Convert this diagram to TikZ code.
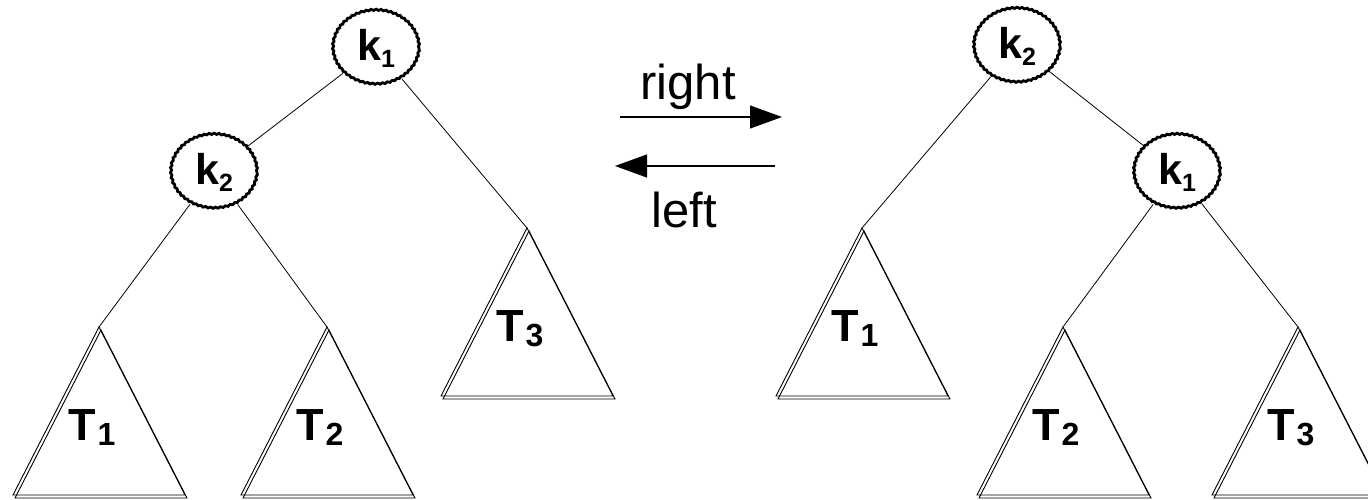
\documentclass[tikz,border=0pt]{standalone}
\usepackage{fontspec}
\setmainfont{Liberation Sans}
\usetikzlibrary{shapes.geometric,decorations.pathmorphing,arrows.meta}

\tikzset{
  keynode/.style={ellipse, draw, line width=2.8pt, minimum width=86pt, minimum height=74pt,
    inner sep=0pt, decorate, decoration={snake, amplitude=0.6pt, segment length=5pt},
    font=\fontsize{43}{43}\selectfont\bfseries},
  edge/.style={line width=0.8pt},
  treeside/.style={line width=0.9pt, line join=miter},
  arrowline/.style={line width=1.1pt, -{Triangle[length=32pt,width=23pt]}},
  lbl/.style={font=\fontsize{49}{49}\selectfont, inner sep=0pt},
  treelabel/.style={font=\fontsize{45}{45}\selectfont\bfseries, inner sep=0pt, anchor=base west}
}

% key label with lowered index
\newcommand\keytext[1]{k\raisebox{-7pt}{\fontsize{25}{25}\selectfont #1}}
% subtree label with lowered index
\newcommand\treetext[1]{T\hspace{2pt}\raisebox{-5pt}{\fontsize{32}{32}\selectfont #1}}
% subtree triangle drawn with a doubled outline; #1 apex name, (#2,#3) apex, #4 index
\newcommand\subtreetri[4]{%
  \coordinate (#1) at (#2,#3);
  \draw[treeside] (#1) -- ++(-86,168) -- ++(172,0) -- cycle;
  \draw[treeside] ([shift={(2,3)}]#1) -- ++(-86,168) -- ++(172,0) -- cycle;
  \node[treelabel] (#1-lbl) at ([shift={(-31,113)}]#1) {\treetext{#4}};
}

\begin{document}
\begin{tikzpicture}[x=1pt, y=-1pt]
  \useasboundingbox (0,0) rectangle (1368,500);
  \clip (0,0) rectangle (1368,500);

  % tree before the rotation
  \node[keynode] (Lk1) at (376,48) {\keytext{1}};
  \node[keynode] (Lk2) at (214,172) {\keytext{2}};
  \subtreetri{LT1}{99}{327}{1}
  \subtreetri{LT2}{327}{327}{2}
  \subtreetri{LT3}{527}{228}{3}
  \draw[edge] (Lk1) -- (Lk2);
  \draw[edge] (Lk1) -- (LT3);
  \draw[edge] (Lk2) -- (LT1);
  \draw[edge] (Lk2) -- (LT2);

  % rotation arrows
  \coordinate (ra) at (620,117);
  \coordinate (rb) at (782,117);
  \coordinate (la) at (775,166);
  \coordinate (lb) at (615,166);
  \draw[arrowline] (ra) -- (rb);
  \draw[arrowline] (la) -- (lb);
  \node[lbl, anchor=base] (rightlbl) at (688,100) {right};
  \node[lbl, anchor=base] (leftlbl) at (684,227) {left};

  % tree after the rotation
  \node[keynode] (Rk2) at (1017,46) {\keytext{2}};
  \node[keynode] (Rk1) at (1177,172) {\keytext{1}};
  \subtreetri{RT1}{862}{228}{1}
  \subtreetri{RT2}{1063}{327}{2}
  \subtreetri{RT3}{1298}{327}{3}
  \draw[edge] (Rk2) -- (Rk1);
  \draw[edge] (Rk2) -- (RT1);
  \draw[edge] (Rk1) -- (RT2);
  \draw[edge] (Rk1) -- (RT3);
\end{tikzpicture}
\end{document}
